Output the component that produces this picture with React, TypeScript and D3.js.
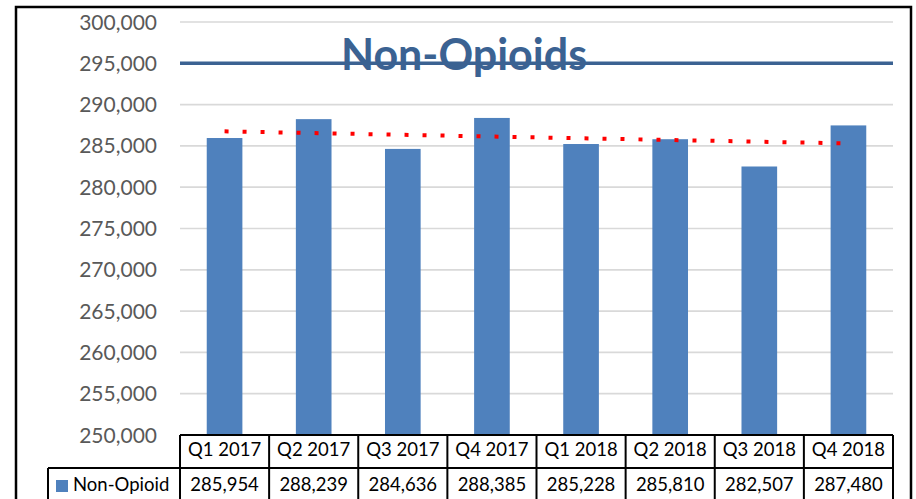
import React from "react";
import * as d3 from "d3";

const categories = ["Q1 2017", "Q2 2017", "Q3 2017", "Q4 2017", "Q1 2018", "Q2 2018", "Q3 2018", "Q4 2018"];
const nonOpioid = [285954, 288239, 284636, 288385, 285228, 285810, 282507, 287480];
const yTicks = [250000, 255000, 260000, 265000, 270000, 275000, 280000, 285000, 290000, 295000, 300000];
const seriesName = "Non-Opioid";
const title = "Non-Opioids";
const titleLineValue = 295000;

const W = 916;
const H = 499;
const font = "Lato, 'Open Sans', sans-serif";

const App = () => {
  // scales
  const x = d3.scaleBand<string>()
    .domain(categories)
    .range([180, 893])
    .paddingInner(0.6)
    .paddingOuter(0.3);
  const step = x.step();
  const x0 = 180;

  const y = d3.scaleLinear()
    .domain([250000, 300000])
    .range([435, 22]);

  const fmt = d3.format(",");

  // linear trend (least squares over category index)
  const idx = nonOpioid.map((_, i) => i + 1);
  const mx = d3.mean(idx) as number;
  const my = d3.mean(nonOpioid) as number;
  const slope = d3.sum(idx, (v, i) => (v - mx) * (nonOpioid[i] - my)) / d3.sum(idx, (v) => (v - mx) ** 2);
  const trend = (i: number) => my + slope * (i - mx);
  const trendPts = [categories[0], categories[categories.length - 1]];
  const trendPath = d3.line<[number, number]>()(
    trendPts.map((c) => [(x(c) as number) + x.bandwidth() / 2, y(trend(categories.indexOf(c) + 1))])
  );

  const rowTop = 435;
  const rowMid = 468;
  const tableRight = x0 + step * categories.length;

  return (
    <svg width={W} height={H} style={{ position: "absolute", left: 0, top: 0, background: "#fff" }}>
      {/* gridlines */}
      {yTicks.filter((t) => t !== titleLineValue).map((t) => (
        <line key={t} x1={180} x2={893} y1={y(t)} y2={y(t)} stroke="#d9d9d9" strokeWidth={1.7} />
      ))}

      {/* y labels */}
      {yTicks.map((t) => (
        <text key={t} x={157} y={y(t) + 7.5} textAnchor="end" fontFamily={font} fontSize={21} fill="#595959">
          {fmt(t)}
        </text>
      ))}

      {/* bars */}
      {nonOpioid.map((v, i) => (
        <rect key={i} x={x(categories[i])} y={y(v)} width={x.bandwidth()} height={y(250000) - y(v)} fill="#4f81bd" />
      ))}

      {/* trend */}
      <path d={trendPath || ""} fill="none" stroke="#ff0000" strokeWidth={4} strokeDasharray="4 14" />

      {/* title with line */}
      <text x={464} y={70} textAnchor="middle" fontFamily={font} fontWeight="bold" fontSize={43} fill="#3b6292">
        {title}
      </text>
      <line x1={180} x2={893} y1={y(titleLineValue)} y2={y(titleLineValue)} stroke="#3b6292" strokeWidth={3.5} />

      {/* data table */}
      <g stroke="#000" strokeWidth={2}>
        <line x1={x0} x2={tableRight} y1={rowTop} y2={rowTop} />
        <line x1={48} x2={tableRight} y1={rowMid} y2={rowMid} />
        <line x1={48} x2={48} y1={rowMid} y2={H + 5} />
        {d3.range(categories.length + 1).map((i) => (
          <line key={i} x1={x0 + i * step} x2={x0 + i * step} y1={rowTop} y2={H + 5} />
        ))}
      </g>
      {categories.map((c) => (
        <text key={c} x={(x(c) as number) + x.bandwidth() / 2} y={456} textAnchor="middle" fontFamily={font} fontSize={18.5} fill="#000">
          {c}
        </text>
      ))}
      {nonOpioid.map((v, i) => (
        <text key={i} x={(x(categories[i]) as number) + x.bandwidth() / 2} y={490.5} textAnchor="middle" fontFamily={font} fontSize={18.5} fill="#000">
          {fmt(v)}
        </text>
      ))}
      <rect x={56} y={480} width={12} height={12} fill="#4f81bd" />
      <text x={73} y={490.5} fontFamily={font} fontSize={18.5} fill="#000">{seriesName}</text>

      {/* chart border */}
      <rect x={16} y={7} width={895} height={H + 10} fill="none" stroke="#000" strokeWidth={2.5} />
    </svg>
  );
};

export default App;
